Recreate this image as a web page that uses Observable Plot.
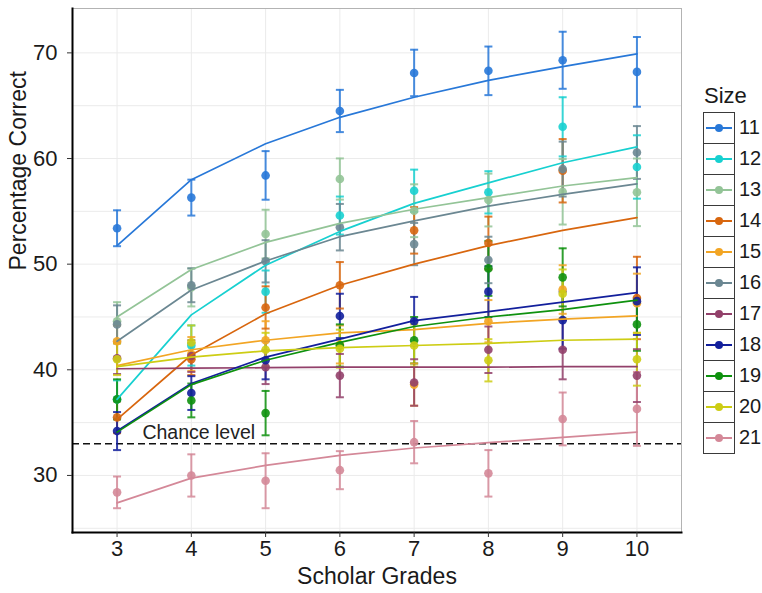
<!DOCTYPE html>
<html>
<head>
<meta charset="utf-8">
<script src="https://cdn.jsdelivr.net/npm/d3@7"></script>
<script src="https://cdn.jsdelivr.net/npm/@observablehq/plot@0.6"></script>
<style>
  body { margin: 0; background: #fff; font-family: "Liberation Sans", Arial, sans-serif; }
  #wrap { position: relative; width: 762px; height: 593px; overflow: hidden; }
  #legend { position: absolute; left: 703px; top: 83px; color: #1a1a1a; }
  #legend .title { font-size: 22px; line-height: 26px; margin: 0 0 3px 1px; }
  #legend .row { display: flex; align-items: center; height: 31px; }
  #legend .key { width: 30px; height: 30px; border: 1px solid #3a3a3a; box-sizing: content-box; margin-bottom: -1px; }
  #legend .lab { font-size: 20px; margin-left: 4px; white-space: nowrap; }
</style>
</head>
<body>
<div id="wrap"><div id="legend"></div></div>
<script>
// Grades on the x axis and the sequence sizes shown as series
const grades = [3, 4, 5, 6, 7, 8, 9, 10];
const sizes = [11, 12, 13, 14, 15, 16, 17, 18, 19, 20, 21];

// Mean percentage correct per size (rows) and grade (columns)
const meanCorrect = [
  [53.4, 56.3, 58.4, 64.5, 68.1, 68.3, 69.3, 68.2],
  [37.2, 42.3, 47.4, 54.6, 56.95, 56.8, 63.0, 59.2],
  [44.6, 47.8, 52.85, 58.06, 55.06, 56.07, 56.85, 56.8],
  [35.5, 41.0, 45.9, 48.0, 53.2, 52.0, 58.84, 46.8],
  [42.7, 41.5, 42.8, 42.4, 38.6, 44.6, 47.6, 46.3],
  [44.3, 48.0, 50.27, 53.5, 51.9, 50.4, 59.0, 60.57],
  [41.1, 41.3, 40.25, 39.45, 38.8, 41.9, 41.9, 39.45],
  [34.2, 37.8, 40.9, 45.1, 44.6, 47.4, 44.7, 46.5],
  [37.2, 37.1, 35.9, 42.3, 42.8, 49.6, 48.75, 44.3],
  [41.0, 42.6, 41.9, 42.0, 42.3, 40.9, 47.2, 41.0],
  [28.4, 30.0, 29.5, 30.5, 33.15, 30.2, 35.35, 36.3]
];

// Half-length of each error bar
const errorHalf = [
  [1.7, 1.7, 2.3, 2.0, 2.2, 2.3, 2.7, 3.3],
  [1.8, 1.9, 2.0, 1.8, 2.0, 2.0, 2.8, 3.0],
  [1.8, 1.8, 2.3, 1.95, 2.5, 2.5, 3.1, 3.2],
  [1.5, 1.5, 2.0, 2.2, 2.2, 2.5, 3.0, 3.9],
  [1.5, 1.6, 1.8, 1.8, 2.0, 2.0, 2.3, 2.8],
  [1.8, 1.6, 2.0, 2.2, 2.0, 2.2, 2.6, 2.5],
  [1.5, 1.5, 1.6, 2.05, 2.2, 2.2, 2.8, 2.5],
  [1.8, 1.6, 1.8, 2.1, 2.3, 2.4, 2.7, 3.2],
  [1.9, 1.6, 2.1, 2.0, 2.2, 2.6, 2.75, 2.5],
  [1.5, 1.6, 1.6, 1.8, 2.0, 2.0, 2.3, 2.5],
  [1.5, 2.0, 2.6, 1.8, 2.0, 2.2, 2.5, 3.5]
];

// Fitted curve per size, evaluated at each grade
const fitCorrect = [
  [51.75, 58.0, 61.4, 63.9, 65.8, 67.4, 68.7, 69.9],
  [37.2, 45.2, 49.9, 53.1, 55.75, 57.7, 59.6, 61.1],
  [45.0, 49.5, 52.06, 53.86, 55.2, 56.3, 57.4, 58.2],
  [35.3, 41.4, 45.3, 48.0, 50.0, 51.75, 53.2, 54.4],
  [40.4, 41.9, 42.8, 43.5, 43.8, 44.4, 44.8, 45.1],
  [42.7, 47.55, 50.3, 52.6, 54.1, 55.5, 56.6, 57.6],
  [40.1, 40.15, 40.2, 40.25, 40.25, 40.25, 40.3, 40.3],
  [34.2, 38.7, 41.2, 42.9, 44.65, 45.5, 46.4, 47.3],
  [34.1, 38.6, 40.9, 42.6, 44.1, 45.0, 45.7, 46.6],
  [40.3, 41.2, 41.8, 42.1, 42.3, 42.5, 42.8, 42.9],
  [27.4, 29.75, 30.95, 31.9, 32.6, 33.1, 33.6, 34.1]
];

const yTicks = [30, 40, 50, 60, 70];
const chanceLevel = 33;

const palette = ["#2878d8", "#17d0d0", "#93c497", "#d8660e", "#f2a524", "#6b8792",
                 "#92406a", "#121f9c", "#0e910e", "#cdcd14", "#d48898"];

const rows = [];
sizes.forEach((s, i) => grades.forEach((g, j) => rows.push({
  size: s, grade: g, mean: meanCorrect[i][j],
  lo: meanCorrect[i][j] - errorHalf[i][j], hi: meanCorrect[i][j] + errorHalf[i][j],
  fit: fitCorrect[i][j]
})));

// Horizontal cap used at the ends of the error bars
const capSymbol = {
  draw(ctx, size) { const r = Math.sqrt(size / Math.PI); ctx.moveTo(-r, 0); ctx.lineTo(r, 0); }
};

const chart = Plot.plot({
  width: 762, height: 593,
  marginLeft: 72, marginRight: 81, marginTop: 8, marginBottom: 61,
  style: { fontFamily: "Liberation Sans, Arial, sans-serif", color: "#1a1a1a" },
  x: { domain: [2.4, 10.6] },
  y: { domain: [24.6, 74.2] },
  color: { domain: sizes, range: palette },
  marks: [
    Plot.gridX(grades, { stroke: "#ebebeb", strokeOpacity: 1 }),
    Plot.gridY(d3.range(25, 75, 5), { stroke: "#ebebeb", strokeOpacity: 1 }),
    Plot.frame({ stroke: "#b3b3b3" }),
    Plot.ruleY([chanceLevel], { stroke: "#111", strokeWidth: 1.4, strokeDasharray: "7,4" }),
    Plot.text(["Chance level"], { x: 4.1, y: chanceLevel, dy: -11, fontSize: 19.5, fill: "#222" }),
    Plot.ruleX(rows, { x: "grade", y1: "lo", y2: "hi", stroke: "size", strokeWidth: 2, strokeOpacity: 0.85 }),
    Plot.dot(rows, { x: "grade", y: "lo", symbol: capSymbol, r: 4, stroke: "size", strokeWidth: 2, strokeOpacity: 0.85 }),
    Plot.dot(rows, { x: "grade", y: "hi", symbol: capSymbol, r: 4, stroke: "size", strokeWidth: 2, strokeOpacity: 0.85 }),
    Plot.dot(rows, { x: "grade", y: "mean", r: 4.3, fill: "size", fillOpacity: 0.9 }),
    Plot.line(rows, { x: "grade", y: "fit", z: "size", stroke: "size", strokeWidth: 1.7 }),
    Plot.frame({ anchor: "left", stroke: "#000", strokeWidth: 2 }),
    Plot.frame({ anchor: "bottom", stroke: "#000", strokeWidth: 2 }),
    Plot.axisX(grades, { tickSize: 5, tickPadding: 3, fontSize: 22, label: null, tickFormat: d => d, stroke: "#333" }),
    Plot.axisY(yTicks, { tickSize: 5, tickPadding: 10, fontSize: 22, label: null, stroke: "#333" }),
    Plot.text(["Percentage Correct"], { frameAnchor: "left", dx: -54, rotate: -90, fontSize: 23 }),
    Plot.text(["Scholar Grades"], { frameAnchor: "bottom", dy: 51, fontSize: 23 })
  ]
});
document.getElementById("wrap").prepend(chart);
chart.style.position = "absolute"; chart.style.left = "0"; chart.style.top = "0";

// Legend: one boxed key per size
const legend = d3.select("#legend");
legend.append("div").attr("class", "title").text("Size");
sizes.forEach((s, i) => {
  const row = legend.append("div").attr("class", "row");
  const svg = row.append("div").attr("class", "key").append("svg").attr("width", 30).attr("height", 30);
  svg.append("line").attr("x1", 2).attr("x2", 28).attr("y1", 15).attr("y2", 15)
    .attr("stroke", palette[i]).attr("stroke-width", 2);
  svg.append("circle").attr("cx", 15).attr("cy", 15).attr("r", 4).attr("fill", palette[i]);
  row.append("div").attr("class", "lab").text(s);
});
</script>
</body>
</html>
